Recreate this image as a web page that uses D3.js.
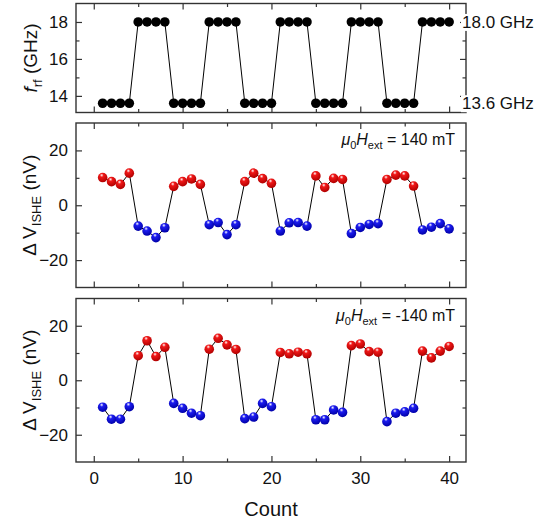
<!DOCTYPE html>
<html><head><meta charset="utf-8">
<script src="https://cdn.jsdelivr.net/npm/d3@7/dist/d3.min.js"></script>
<style>body{margin:0;background:#fff}svg{font-family:"Liberation Sans",Arial,sans-serif}</style>
</head><body><svg id="c" width="539" height="524"></svg>
<script>
const counts = [1,2,3,4,5,6,7,8,9,10,11,12,13,14,15,16,17,18,19,20,21,22,23,24,25,26,27,28,29,30,31,32,33,34,35,36,37,38,39,40];
const freq = [13.6,13.6,13.6,13.6,18,18,18,18,13.6,13.6,13.6,13.6,18,18,18,18,13.6,13.6,13.6,13.6,18,18,18,18,13.6,13.6,13.6,13.6,18,18,18,18,13.6,13.6,13.6,13.6,18,18,18,18];
const vPos = [10.1,8.6,7.6,11.7,-7.6,-9.4,-11.8,-8.2,6.9,8.6,9.6,7.6,-7.1,-6.3,-10.7,-7.1,8.6,11.7,9.7,8.0,-9.4,-6.4,-6.3,-7.6,10.7,6.5,9.8,9.4,-10.3,-8.1,-7.0,-6.7,9.4,11.0,10.7,7.0,-9.0,-8.0,-6.7,-8.6];
const vNeg = [-9.9,-14.3,-14.3,-9.7,9.0,14.5,8.7,12.1,-8.5,-10.3,-12.1,-13.0,11.4,15.4,13.0,11.3,-14.1,-13.5,-8.5,-9.7,10.2,9.7,10.3,9.7,-14.5,-14.5,-10.9,-11.8,12.7,13.3,10.5,10.3,-15.2,-12.1,-11.6,-10.3,10.7,8.2,10.7,12.4];
const xTicks = [0,10,20,30,40];
const xMinor = [5,15,25,35];
const fTicks = [14,16,18];
const fMinor = [15,17];
const vTicks = [-20,0,20];
const vMinor = [-10,10];
const rightLabelValues = [18.0,13.6];
const rightLabels = ["18.0 GHz","13.6 GHz"];
const fieldLabels = ["140 mT","-140 mT"];

const svg = d3.select("#c");
const defs = svg.append("defs");
function grad(id, base, dark){
  const g = defs.append("radialGradient").attr("id",id).attr("cx","40%").attr("cy","30%").attr("r","70%").attr("fx","40%").attr("fy","25%");
  g.append("stop").attr("offset","0%").attr("stop-color","#fff");
  g.append("stop").attr("offset","28%").attr("stop-color",base);
  g.append("stop").attr("offset","100%").attr("stop-color",dark);
}
grad("gRed","#f01818","#b00000");
grad("gBlue","#1c1cf0","#0000a8");

const L=76,R=466;
const x = d3.scaleLinear().domain([-2,41.9]).range([L,R]);
const axisColor="#333";
const fmt = d3.format("d");

function panel(top,bottom,domain,ticks,minor,showXLabels){
  const y = d3.scaleLinear().domain(domain).range([bottom,top]);
  const g = svg.append("g");
  const fs = 17;
  g.append("g").attr("transform",`translate(${L},0)`).call(d3.axisLeft(y).tickValues(ticks).tickSize(-6).tickSizeOuter(0).tickPadding(8).tickFormat(fmt));
  g.append("g").attr("transform",`translate(${L},0)`).call(d3.axisLeft(y).tickValues(minor).tickSize(-3.5).tickSizeOuter(0).tickFormat(""));
  g.append("g").attr("transform",`translate(${R},0)`).call(d3.axisRight(y).tickValues(ticks).tickSize(-6).tickSizeOuter(0).tickFormat(""));
  g.append("g").attr("transform",`translate(${R},0)`).call(d3.axisRight(y).tickValues(minor).tickSize(-3.5).tickSizeOuter(0).tickFormat(""));
  g.append("g").attr("transform",`translate(0,${bottom})`).call(d3.axisBottom(x).tickValues(xTicks).tickSize(-6).tickSizeOuter(0).tickPadding(10).tickFormat(showXLabels? fmt:""));
  g.append("g").attr("transform",`translate(0,${bottom})`).call(d3.axisBottom(x).tickValues(xMinor).tickSize(-3.5).tickSizeOuter(0).tickFormat(""));
  g.append("g").attr("transform",`translate(0,${top})`).call(d3.axisTop(x).tickValues(xTicks).tickSize(-6).tickSizeOuter(0).tickFormat(""));
  g.append("g").attr("transform",`translate(0,${top})`).call(d3.axisTop(x).tickValues(xMinor).tickSize(-3.5).tickSizeOuter(0).tickFormat(""));
  g.selectAll(".domain").remove();
  g.selectAll(".tick line").attr("stroke",axisColor).attr("stroke-width",1.2);
  g.selectAll(".tick text").attr("font-size",fs).attr("font-family","Liberation Sans, Arial, sans-serif").attr("fill","#111");
  g.append("rect").attr("x",L).attr("y",top).attr("width",R-L).attr("height",bottom-top).attr("fill","none").attr("stroke",axisColor).attr("stroke-width",1.4);
  return {g,y};
}

// Top panel
const p1 = panel(3.5,112.5,[13.1,19],fTicks,fMinor,false);
const fpts = counts.map((c,i)=>[c,freq[i]]);
p1.g.append("path").datum(fpts)
  .attr("d",d3.line().x(d=>x(d[0])).y(d=>p1.y(d[1]))).attr("fill","none").attr("stroke","#000").attr("stroke-width",1);
p1.g.selectAll("circle.f").data(fpts).join("circle")
  .attr("cx",d=>x(d[0])).attr("cy",d=>p1.y(d[1])).attr("r",4.8).attr("fill","#000");
const rl = p1.g.selectAll("g.rl").data(rightLabelValues).join("g");
const rlt = rl.append("text")
  .attr("x",462).attr("y",d=>p1.y(d)).attr("dy","0.35em").attr("font-size",17).attr("fill","#111")
  .text((d,i)=>rightLabels[i]);
rlt.each(function(){
  const b = this.getBBox();
  d3.select(this.parentNode).insert("rect","text").attr("x",b.x-1).attr("y",b.y+1).attr("width",b.width+2).attr("height",b.height-2).attr("fill","#fff");
});
const t1 = svg.append("text").attr("transform",`translate(37,${(3.5+112.5)/2}) rotate(-90)`).attr("text-anchor","middle").attr("font-size",19).attr("fill","#111");
t1.append("tspan").attr("font-style","italic").text("f");
t1.append("tspan").attr("font-size",13).attr("dy",5).text("rf");
t1.append("tspan").attr("dy",-5).text(" (GHz)");

function vpanel(top,bottom,vals,field,showX){
  const p = panel(top,bottom,[-30,30],vTicks,vMinor,showX);
  const pts = counts.map((c,i)=>[c,vals[i]]);
  p.g.append("path").datum(pts).attr("d",d3.line().x(d=>x(d[0])).y(d=>p.y(d[1]))).attr("fill","none").attr("stroke","#000").attr("stroke-width",1);
  p.g.selectAll("circle.v").data(pts).join("circle")
    .attr("cx",d=>x(d[0])).attr("cy",d=>p.y(d[1])).attr("r",4.8)
    .attr("fill",d=>d[1]>0?"url(#gRed)":"url(#gBlue)");
  const a = p.g.append("text").attr("x",455).attr("y",top+22).attr("text-anchor","end").attr("font-size",16).attr("fill","#111");
  a.append("tspan").attr("font-style","italic").text("μ");
  a.append("tspan").attr("font-size",11).attr("dy",4).text("0");
  a.append("tspan").attr("font-style","italic").attr("dy",-4).text("H");
  a.append("tspan").attr("font-size",11).attr("dy",4).text("ext");
  a.append("tspan").attr("dy",-4).text(" = " + field);
  const t = svg.append("text").attr("transform",`translate(36,${(top+bottom)/2}) rotate(-90)`).attr("text-anchor","middle").attr("font-size",19).attr("fill","#111");
  t.append("tspan").text("Δ V");
  t.append("tspan").attr("font-size",13).attr("dy",5).text("ISHE");
  t.append("tspan").attr("dy",-5).text(" (nV)");
  return p;
}
vpanel(123,287.5,vPos,fieldLabels[0],false);
vpanel(298.5,462,vNeg,fieldLabels[1],true);

svg.append("text").attr("x",(L+R)/2).attr("y",516).attr("text-anchor","middle").attr("font-size",20).attr("fill","#111").text("Count");
</script></body></html>
